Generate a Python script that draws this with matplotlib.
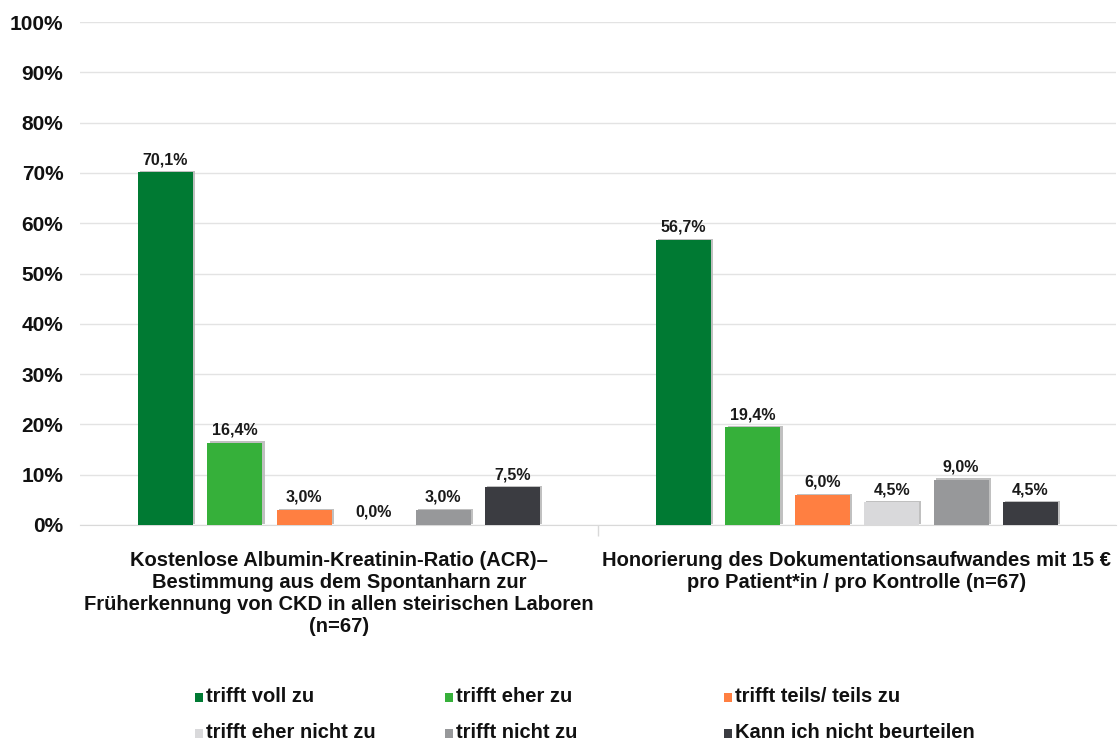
import matplotlib
matplotlib.use("Agg")
import matplotlib.pyplot as plt
import matplotlib.patheffects as pe
from matplotlib.patches import Rectangle

# --- data -------------------------------------------------------------
groups = [
    "Kostenlose Albumin-Kreatinin-Ratio (ACR)–\nBestimmung aus dem Spontanharn zur\n"
    "Früherkennung von CKD in allen steirischen Laboren\n(n=67)",
    "Honorierung des Dokumentationsaufwandes mit 15 €\npro Patient*in / pro Kontrolle (n=67)",
]
answers = [
    "trifft voll zu",
    "trifft eher zu",
    "trifft teils/ teils zu",
    "trifft eher nicht zu",
    "trifft nicht zu",
    "Kann ich nicht beurteilen",
]
values = [
    [70.1, 16.4, 3.0, 0.0, 3.0, 7.5],
    [56.7, 19.4, 6.0, 4.5, 9.0, 4.5],
]
colors = ["#007A33", "#36B03A", "#FF7F41", "#D9D9DB", "#97989A", "#3B3C41"]
yticks = [0, 10, 20, 30, 40, 50, 60, 70, 80, 90, 100]

plt.rcParams["font.family"] = ["Liberation Sans", "DejaVu Sans"]

W, H = 1118, 743
fig = plt.figure(figsize=(W / 100, H / 100), dpi=100)
ax = fig.add_axes([80 / W, 218 / H, 1036 / W, 503 / H])

spacing = 0.134
width = 0.106
shadow = [pe.SimplePatchShadow(offset=(1.6, 0.9), shadow_rgbFace="#b9b9b9", alpha=0.9), pe.Normal()]

for gi, vals in enumerate(values):
    for j, v in enumerate(vals):
        x = gi + (j - 2.5) * spacing
        bars = ax.bar(x, v, width=width, color=colors[j], zorder=3)
        if v > 0:
            for b in bars:
                b.set_path_effects(shadow)
        ax.text(x, v + 1.0, f"{v:.1f}%".replace(".", ","), ha="center", va="bottom",
                fontsize=11.5, fontweight="bold", color="#1a1a1a", zorder=4)

ax.set_xlim(-0.5, 1.5)
ax.set_ylim(0, 100)
ax.set_yticks(yticks)
ax.set_yticklabels([f"{t}%" for t in yticks], fontsize=15, fontweight="bold", color="#111111")
ax.tick_params(axis="y", length=0, pad=12)
ax.set_xticks([0.5])
ax.set_xticklabels([""])
ax.tick_params(axis="x", length=8, color="#d9d9d9", width=1)
ax.grid(axis="y", color="#e3e3e3", linewidth=1, zorder=0)
for s in ["top", "right", "left"]:
    ax.spines[s].set_visible(False)
ax.spines["bottom"].set_color("#d9d9d9")

# group captions under the axis
for gi, label in enumerate(groups):
    ax.text(gi, -5.2, label, ha="center", va="top", fontsize=14.5, fontweight="bold",
            color="#111111", linespacing=1.2, transform=ax.transData)

# legend: three columns, two rows
col_x = [195, 445, 724]
row_y = [697, 733]
for k, (lab, c) in enumerate(zip(answers, colors)):
    cx = col_x[k % 3]
    cy = row_y[k // 3]
    fig.patches.append(Rectangle((cx / W, 1 - (cy + 4.5) / H), 8 / W, 9 / H,
                                 transform=fig.transFigure, facecolor=c, edgecolor="none"))
    fig.text((cx + 11) / W, 1 - cy / H, lab, ha="left", va="center", fontsize=14.5,
             fontweight="bold", color="#111111")

fig.savefig("out.png", dpi=100, facecolor="white")
